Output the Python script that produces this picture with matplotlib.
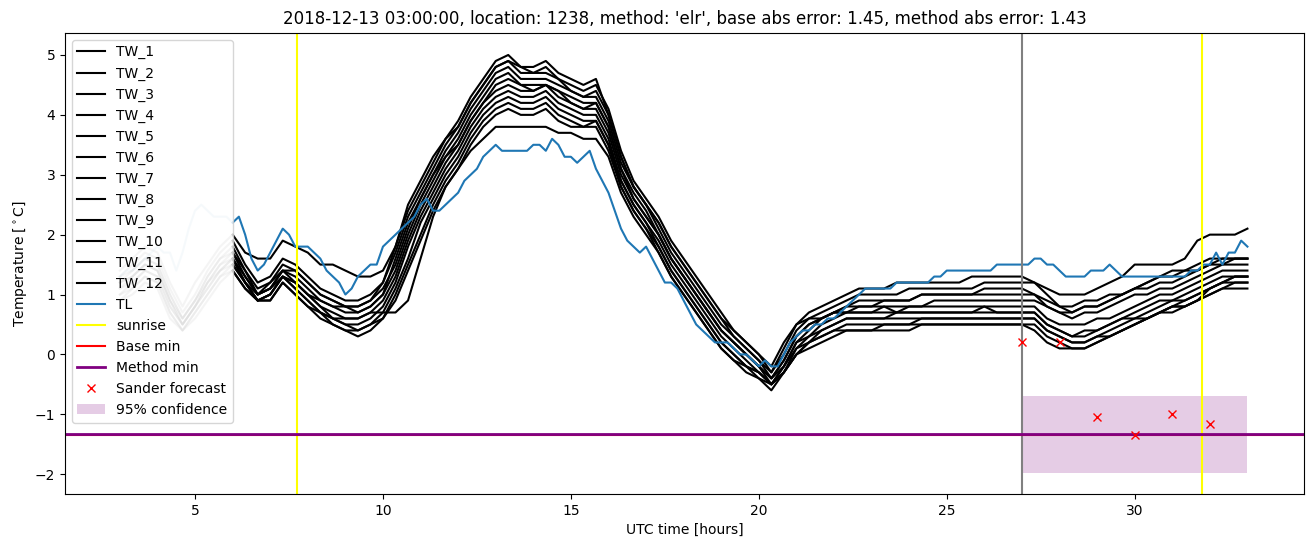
import numpy as np
import matplotlib
matplotlib.use("Agg")
import matplotlib.pyplot as plt

# ---------------- data ----------------
title = ("2018-12-13 03:00:00, location: 1238, method: 'elr', "
         "base abs error: 1.45, method abs error: 1.43")

# TL observations, 10-minute steps from 3:00 to 33:00
tl_start, tl_step = 3.0, 1 / 6
TL = [
    1.3, 1.4, 1.4, 1.5, 1.6, 1.7,
    1.8, 1.7, 1.7, 1.4, 1.7, 2.1,
    2.4, 2.5, 2.4, 2.3, 2.3, 2.3,
    2.2, 2.3, 2.0, 1.6, 1.4, 1.5,
    1.7, 1.9, 2.1, 2.0, 1.8, 1.8,
    1.8, 1.7, 1.6, 1.4, 1.3, 1.2,
    1.0, 1.1, 1.3, 1.4, 1.5, 1.5,
    1.8, 1.9, 2.0, 2.1, 2.2, 2.3,
    2.5, 2.6, 2.4, 2.4, 2.5, 2.6,
    2.7, 2.9, 3.0, 3.1, 3.3, 3.4,
    3.5, 3.4, 3.4, 3.4, 3.4, 3.4,
    3.5, 3.5, 3.4, 3.6, 3.5, 3.3,
    3.3, 3.2, 3.3, 3.4, 3.1, 2.9,
    2.7, 2.4, 2.1, 1.9, 1.8, 1.7,
    1.8, 1.6, 1.4, 1.2, 1.2, 1.1,
    0.9, 0.7, 0.5, 0.4, 0.3, 0.2,
    0.2, 0.2, 0.1, 0.0, 0.0, -0.1,
    -0.2, -0.1, -0.2, -0.2, 0.0, 0.2,
    0.3, 0.4, 0.4, 0.5, 0.5, 0.6,
    0.6, 0.7, 0.8, 0.9, 1.0, 1.1,
    1.1, 1.1, 1.1, 1.1, 1.2, 1.2,
    1.2, 1.2, 1.2, 1.2, 1.3, 1.3,
    1.4, 1.4, 1.4, 1.4, 1.4, 1.4,
    1.4, 1.4, 1.5, 1.5, 1.5, 1.5,
    1.5, 1.5, 1.6, 1.6, 1.5, 1.5,
    1.4, 1.3, 1.3, 1.3, 1.3, 1.4,
    1.4, 1.4, 1.5, 1.4, 1.3, 1.3,
    1.3, 1.3, 1.3, 1.3, 1.3, 1.3,
    1.3, 1.3, 1.3, 1.4, 1.4, 1.5,
    1.5, 1.7, 1.5, 1.7, 1.7, 1.9,
    1.8,
]

# TW sensors, 20-minute steps from 3:00 to 33:00
tw_start, tw_step = 3.0, 1 / 3
TW_1 = [1.4, 1.6, 1.8, 1.7, 1.2, 0.8, 1.2, 1.5, 1.8, 2.0, 1.7, 1.6,
        1.6, 1.9, 1.8, 1.7, 1.5, 1.5, 1.4, 1.3, 1.3, 1.4, 1.8, 2.4,
        2.8, 3.2, 3.6, 3.9, 4.3, 4.6, 4.9, 5.0, 4.8, 4.8, 4.9, 4.7,
        4.6, 4.5, 4.6, 4.0, 3.3, 2.8, 2.5, 2.2, 1.8, 1.5, 1.2, 0.9,
        0.6, 0.4, 0.2, 0.0, -0.2, 0.2, 0.5, 0.7, 0.8, 0.9, 1.0, 1.1,
        1.1, 1.1, 1.2, 1.2, 1.2, 1.2, 1.2, 1.2, 1.3, 1.3, 1.3, 1.3,
        1.3, 1.2, 1.1, 1.0, 1.0, 1.0, 1.1, 1.2, 1.3, 1.5, 1.5, 1.5,
        1.5, 1.6, 1.9, 2.0, 2.0, 2.0, 2.1]
TW_2 = [1.3, 1.5, 1.7, 1.6, 1.1, 0.7, 1.0, 1.4, 1.7, 1.9, 1.5, 1.2,
        1.3, 1.6, 1.5, 1.3, 1.1, 1.0, 0.9, 0.9, 1.0, 1.2, 1.7, 2.3,
        2.7, 3.1, 3.5, 3.8, 4.2, 4.5, 4.8, 4.9, 4.8, 4.7, 4.7, 4.6,
        4.5, 4.4, 4.5, 4.1, 3.4, 2.9, 2.6, 2.3, 1.9, 1.6, 1.3, 1.0,
        0.7, 0.4, 0.2, 0.0, -0.3, 0.0, 0.4, 0.6, 0.7, 0.8, 0.9, 1.0,
        1.0, 1.0, 1.0, 1.1, 1.1, 1.1, 1.1, 1.1, 1.1, 1.2, 1.2, 1.2,
        1.2, 1.2, 1.0, 0.8, 0.8, 0.9, 0.9, 1.0, 1.0, 1.1, 1.2, 1.3,
        1.3, 1.4, 1.4, 1.5, 1.6, 1.6, 1.6]
TW_3 = [1.2, 1.4, 1.6, 1.5, 1.0, 0.6, 0.9, 1.3, 1.6, 1.8, 1.4, 1.1,
        1.2, 1.5, 1.4, 1.2, 1.0, 0.9, 0.8, 0.8, 0.9, 1.1, 1.5, 2.1,
        2.6, 3.0, 3.4, 3.7, 4.1, 4.4, 4.7, 4.8, 4.6, 4.6, 4.6, 4.5,
        4.4, 4.3, 4.3, 3.9, 3.2, 2.8, 2.5, 2.1, 1.7, 1.4, 1.1, 0.8,
        0.5, 0.3, 0.1, -0.1, -0.4, -0.1, 0.3, 0.5, 0.6, 0.7, 0.8, 0.8,
        0.8, 0.9, 0.9, 0.9, 1.0, 1.0, 1.0, 1.0, 1.0, 1.1, 1.1, 1.1,
        1.1, 1.0, 0.9, 0.8, 0.7, 0.8, 0.8, 0.9, 1.0, 1.1, 1.1, 1.2,
        1.2, 1.3, 1.4, 1.5, 1.5, 1.6, 1.6]
TW_4 = [1.1, 1.3, 1.5, 1.4, 0.9, 0.5, 0.8, 1.2, 1.5, 1.7, 1.4, 1.0,
        1.2, 1.4, 1.3, 1.1, 0.9, 0.8, 0.7, 0.7, 0.8, 1.0, 1.4, 2.0,
        2.5, 2.9, 3.3, 3.6, 4.0, 4.3, 4.6, 4.7, 4.5, 4.5, 4.5, 4.4,
        4.3, 4.2, 4.2, 3.8, 3.1, 2.7, 2.4, 2.0, 1.6, 1.3, 1.0, 0.7,
        0.4, 0.2, 0.0, -0.2, -0.4, -0.2, 0.2, 0.4, 0.6, 0.7, 0.7, 0.8,
        0.8, 0.8, 0.8, 0.8, 0.8, 0.9, 0.9, 0.9, 0.9, 0.9, 0.9, 0.9,
        0.9, 0.9, 0.8, 0.7, 0.6, 0.7, 0.7, 0.8, 0.9, 1.0, 1.0, 1.1,
        1.1, 1.2, 1.3, 1.4, 1.5, 1.5, 1.5]
TW_5 = [1.3, 1.4, 1.6, 1.5, 1.0, 0.6, 0.9, 1.3, 1.6, 1.7, 1.3, 1.0,
        1.1, 1.4, 1.4, 1.2, 1.0, 0.9, 0.8, 0.8, 0.9, 1.2, 1.8, 2.5,
        2.9, 3.3, 3.6, 3.8, 4.2, 4.5, 4.8, 4.9, 4.7, 4.7, 4.8, 4.6,
        4.4, 4.3, 4.4, 4.0, 3.3, 2.8, 2.5, 2.2, 1.8, 1.5, 1.2, 0.9,
        0.6, 0.3, 0.1, -0.1, -0.3, 0.1, 0.5, 0.6, 0.6, 0.7, 0.7, 0.7,
        0.7, 0.8, 0.7, 0.8, 0.8, 0.8, 0.8, 0.8, 0.8, 0.8, 0.8, 0.8,
        0.8, 0.8, 0.6, 0.5, 0.5, 0.5, 0.6, 0.6, 0.7, 0.8, 0.9, 1.0,
        1.0, 1.1, 1.2, 1.3, 1.4, 1.4, 1.4]
TW_6 = [1.0, 1.2, 1.4, 1.3, 0.8, 0.5, 0.8, 1.1, 1.4, 1.6, 1.3, 1.0,
        1.1, 1.4, 1.2, 1.0, 0.8, 0.7, 0.6, 0.6, 0.7, 0.9, 1.3, 1.9,
        2.4, 2.8, 3.2, 3.5, 3.9, 4.2, 4.4, 4.5, 4.4, 4.4, 4.5, 4.3,
        4.2, 4.1, 4.1, 3.7, 3.0, 2.6, 2.3, 2.0, 1.6, 1.3, 1.0, 0.7,
        0.4, 0.2, 0.0, -0.2, -0.5, -0.3, 0.1, 0.3, 0.5, 0.6, 0.7, 0.7,
        0.7, 0.7, 0.7, 0.7, 0.7, 0.7, 0.7, 0.7, 0.7, 0.8, 0.7, 0.7,
        0.7, 0.7, 0.5, 0.4, 0.3, 0.3, 0.4, 0.5, 0.6, 0.7, 0.8, 0.9,
        0.9, 1.0, 1.1, 1.2, 1.3, 1.3, 1.3]
TW_7 = [1.2, 1.3, 1.5, 1.4, 0.9, 0.5, 0.8, 1.2, 1.5, 1.6, 1.2, 0.9,
        1.0, 1.3, 1.2, 1.0, 0.8, 0.6, 0.5, 0.5, 0.6, 0.8, 1.2, 1.8,
        2.3, 2.7, 3.1, 3.4, 3.8, 4.1, 4.3, 4.4, 4.3, 4.3, 4.4, 4.2,
        4.1, 4.0, 4.0, 3.6, 2.9, 2.5, 2.2, 1.9, 1.5, 1.2, 0.9, 0.6,
        0.3, 0.1, -0.1, -0.3, -0.5, -0.2, 0.2, 0.3, 0.4, 0.5, 0.6, 0.6,
        0.6, 0.6, 0.6, 0.6, 0.6, 0.6, 0.6, 0.6, 0.6, 0.6, 0.6, 0.6,
        0.6, 0.6, 0.4, 0.3, 0.2, 0.2, 0.3, 0.3, 0.4, 0.5, 0.6, 0.7,
        0.8, 0.8, 0.9, 1.1, 1.2, 1.2, 1.2]
TW_8 = [0.9, 1.1, 1.3, 1.2, 0.7, 0.4, 0.7, 1.0, 1.3, 1.5, 1.2, 0.9,
        1.0, 1.3, 1.1, 0.9, 0.7, 0.6, 0.5, 0.4, 0.5, 0.7, 1.1, 1.6,
        2.2, 2.6, 3.0, 3.3, 3.7, 4.0, 4.2, 4.3, 4.2, 4.2, 4.3, 4.1,
        4.0, 3.9, 3.9, 3.5, 2.9, 2.5, 2.2, 1.8, 1.4, 1.1, 0.8, 0.5,
        0.2, 0.0, -0.2, -0.3, -0.5, -0.3, 0.0, 0.2, 0.3, 0.4, 0.5, 0.5,
        0.5, 0.5, 0.5, 0.5, 0.5, 0.5, 0.5, 0.5, 0.5, 0.5, 0.5, 0.5,
        0.5, 0.5, 0.3, 0.2, 0.1, 0.1, 0.2, 0.3, 0.4, 0.5, 0.6, 0.7,
        0.7, 0.8, 0.9, 1.0, 1.1, 1.1, 1.1]
TW_9 = [1.1, 1.2, 1.4, 1.3, 0.8, 0.5, 0.8, 1.1, 1.4, 1.5, 1.2, 0.9,
        1.0, 1.3, 1.1, 0.9, 0.7, 0.5, 0.4, 0.4, 0.5, 0.6, 1.0, 1.5,
        2.0, 2.5, 2.9, 3.2, 3.6, 3.9, 4.1, 4.2, 4.1, 4.1, 4.2, 4.0,
        3.9, 3.8, 3.9, 3.5, 2.8, 2.4, 2.1, 1.8, 1.4, 1.1, 0.8, 0.5,
        0.2, 0.0, -0.2, -0.4, -0.5, -0.2, 0.1, 0.2, 0.4, 0.5, 0.6, 0.6,
        0.6, 0.6, 0.7, 0.7, 0.7, 0.7, 0.7, 0.7, 0.7, 0.7, 0.7, 0.7,
        0.7, 0.7, 0.5, 0.4, 0.3, 0.4, 0.4, 0.5, 0.6, 0.6, 0.7, 0.8,
        0.9, 0.9, 1.0, 1.1, 1.2, 1.3, 1.3]
TW_10 = [0.9, 1.0, 1.2, 1.1, 0.6, 0.4, 0.6, 0.9, 1.2, 1.4, 1.1, 0.9,
         0.9, 1.2, 1.0, 0.8, 0.6, 0.5, 0.4, 0.3, 0.4, 0.6, 0.9, 1.4,
         1.9, 2.4, 2.8, 3.1, 3.5, 3.8, 4.0, 4.1, 4.0, 4.0, 4.1, 3.9,
         3.8, 3.8, 3.8, 3.4, 2.8, 2.4, 2.1, 1.7, 1.3, 1.0, 0.7, 0.4,
         0.1, -0.1, -0.3, -0.4, -0.6, -0.3, 0.0, 0.1, 0.2, 0.3, 0.4, 0.4,
         0.4, 0.4, 0.4, 0.4, 0.5, 0.5, 0.5, 0.5, 0.5, 0.5, 0.5, 0.5,
         0.5, 0.4, 0.2, 0.1, 0.1, 0.1, 0.2, 0.3, 0.4, 0.5, 0.6, 0.7,
         0.8, 0.8, 0.9, 1.0, 1.1, 1.2, 1.2]
TW_11 = [1.0, 1.1, 1.3, 1.2, 0.7, 0.4, 0.7, 1.0, 1.3, 1.4, 1.1, 0.9,
         0.9, 1.2, 1.0, 0.8, 0.7, 0.6, 0.6, 0.6, 0.7, 0.7, 0.7, 0.9,
         1.6, 2.3, 2.8, 3.1, 3.4, 3.6, 3.8, 3.8, 3.8, 3.8, 3.8, 3.7,
         3.7, 3.6, 3.6, 3.3, 2.7, 2.3, 2.0, 1.7, 1.3, 1.0, 0.7, 0.4,
         0.1, -0.1, -0.2, -0.3, -0.5, -0.3, 0.0, 0.2, 0.3, 0.4, 0.4, 0.4,
         0.4, 0.5, 0.5, 0.5, 0.6, 0.6, 0.6, 0.6, 0.6, 0.6, 0.6, 0.6,
         0.6, 0.6, 0.4, 0.3, 0.2, 0.2, 0.3, 0.4, 0.5, 0.6, 0.6, 0.7,
         0.8, 0.9, 1.0, 1.1, 1.2, 1.3, 1.3]
TW_12 = [1.2, 1.3, 1.5, 1.4, 0.9, 0.6, 0.9, 1.2, 1.4, 1.6, 1.2, 1.0,
         1.1, 1.3, 1.2, 1.0, 0.9, 0.8, 0.8, 0.7, 0.8, 1.0, 1.6, 2.2,
         2.6, 3.0, 3.3, 3.5, 3.9, 4.2, 4.5, 4.6, 4.5, 4.4, 4.5, 4.4,
         4.2, 4.1, 4.2, 3.8, 3.1, 2.6, 2.3, 2.0, 1.6, 1.3, 1.0, 0.7,
         0.4, 0.2, 0.0, -0.2, -0.4, -0.1, 0.3, 0.5, 0.6, 0.7, 0.8, 0.9,
         0.9, 0.9, 0.9, 0.9, 1.0, 1.0, 1.0, 1.0, 1.0, 1.0, 1.0, 1.0,
         1.0, 1.0, 0.8, 0.7, 0.7, 0.8, 0.8, 0.9, 1.0, 1.1, 1.2, 1.3,
         1.4, 1.4, 1.5, 1.6, 1.6, 1.6, 1.6]
TW_series = [TW_1, TW_2, TW_3, TW_4, TW_5, TW_6,
             TW_7, TW_8, TW_9, TW_10, TW_11, TW_12]
TW_labels = [f"TW_{i}" for i in range(1, 13)]

history_end = 6.0          # before this hour the series are faded
sunrise_times = [7.72, 31.78]
forecast_time = 27.0
base_min = -1.35
method_min = -1.33
sander_hours = [27, 28, 29, 30, 31, 32]
sander_values = [0.2, 0.2, -1.05, -1.35, -1.0, -1.17]
conf_hours = [27, 33]
conf_low = -1.98
conf_high = -0.7

# ---------------- plot ----------------
fig = plt.figure(figsize=(13.13, 5.47), dpi=100)
ax = fig.add_axes([0.0495, 0.097, 0.9435, 0.843])

t_tw = tw_start + np.arange(len(TW_1)) * tw_step
t_tl = tl_start + np.arange(len(TL)) * tl_step

for vals, lab in zip(TW_series, TW_labels):
    v = np.array(vals)
    m_old = t_tw <= history_end + 1e-9
    m_new = t_tw >= history_end - 1e-9
    ax.plot(t_tw[m_old], v[m_old], color="black", alpha=0.2)
    ax.plot(t_tw[m_new], v[m_new], color="black", label=lab)

tl = np.array(TL)
m_old = t_tl <= history_end + 1e-9
m_new = t_tl >= history_end - 1e-9
ax.plot(t_tl[m_old], tl[m_old], color="#1f77b4", alpha=0.2)
ax.plot(t_tl[m_new], tl[m_new], color="#1f77b4", label="TL")

for i, s in enumerate(sunrise_times):
    ax.axvline(s, color="yellow", label="sunrise" if i == 0 else None)
ax.axvline(forecast_time, color="gray")
ax.axhline(base_min, color="red", label="Base min")
ax.axhline(method_min, color="purple", label="Method min", linewidth=2)
ax.plot(sander_hours, sander_values, "x", color="red", label="Sander forecast")
ax.fill_between(conf_hours, conf_low, conf_high, color="purple", alpha=0.2,
                linewidth=0, label="95% confidence")

ax.set_xlim(1.54, 34.5)
ax.set_ylim(-2.33, 5.37)
ax.set_title(title)
ax.set_xlabel("UTC time [hours]")
ax.set_ylabel("Temperature [$^\\circ$C]")
ax.legend(loc="upper left")

fig.savefig("out.png", dpi=100)
